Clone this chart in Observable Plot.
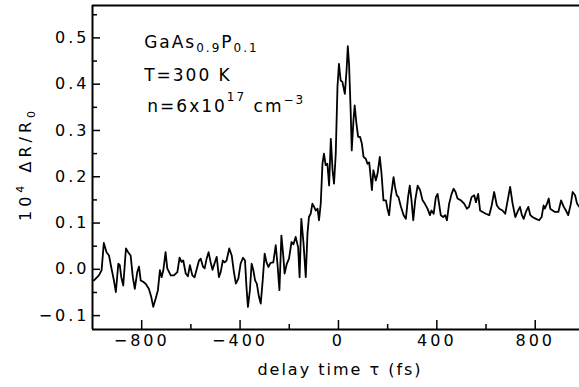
<!DOCTYPE html>
<html>
<head>
<meta charset="utf-8">
<script src="https://cdn.jsdelivr.net/npm/d3@7"></script>
<script src="https://cdn.jsdelivr.net/npm/@observablehq/plot@0.6"></script>
<style>
  html, body { margin: 0; padding: 0; background: white; }
  #chart svg { display: block; }
</style>
</head>
<body>
<div id="chart"></div>
<script>
// delay time tau (fs)
const tau = [-994,-974,-963,-954,-943,-933,-924,-913,-905,-895,-889,-883,-875,-864,-855,-845,-836,-828,-818,-811,-804,-794,-784,-771,-761,-753,-743,-734,-726,-719,-712,-703,-696,-682,-669,-655,-646,-638,-631,-621,-612,-604,-594,-585,-574,-567,-560,-551,-544,-536,-528,-520,-512,-502,-495,-486,-479,-470,-463,-455,-444,-434,-425,-417,-407,-398,-388,-380,-374,-368,-360,-353,-346,-339,-332,-323,-316,-308,-300,-293,-285,-276,-265,-255,-248,-240,-232,-224,-219,-210,-201,-191,-183,-174,-164,-158,-151,-142,-133,-126,-120,-113,-106,-99,-92,-85,-79,-72,-65,-59,-52,-45,-38,-31,-24,-18,-11,-4,2,9,16,26,33,38,43,50,54,61,66,73,80,88,95,102,111,118,125,131,136,142,152,159,168,175,183,193,199,206,213,224,230,237,244,254,265,274,283,290,297,304,312,322,332,342,351,362,372,378,387,396,403,409,416,426,434,441,450,460,468,476,484,498,511,522,531,541,552,559,568,576,586,599,613,623,633,644,654,667,678,688,698,708,719,728,738,746,753,762,772,780,789,803,816,826,834,839,848,855,861,871,880,894,905,916,925,934,945,952,962,970,979];
// 10^4 dR/R0
const signal = [-0.024,-0.013,-0.002,0.057,0.037,0.030,0.005,-0.024,-0.049,0.012,0.009,-0.017,-0.035,0.045,0.037,0.030,-0.017,-0.042,-0.006,0.006,-0.024,-0.027,-0.031,-0.042,-0.060,-0.081,-0.063,-0.045,-0.002,-0.017,-0.002,0.037,0.002,-0.013,-0.013,-0.006,0.025,0.016,0.019,-0.009,-0.015,0.009,-0.013,-0.017,0.005,0.019,0.023,0.006,0.002,0.023,0.037,0.016,-0.001,0.016,0.027,-0.017,-0.006,0.019,0.015,0.019,0.045,0.030,-0.006,-0.031,-0.020,0.012,0.025,0.019,-0.038,-0.081,-0.045,0.012,-0.002,-0.024,-0.031,-0.060,-0.074,-0.024,0.034,0.016,0.005,0.014,0.015,0.052,0.012,-0.045,0.073,0.027,-0.009,0.012,0.023,0.059,0.054,0.070,0.048,-0.017,0.109,0.056,-0.017,0.077,0.113,0.120,0.142,0.135,0.127,0.131,0.106,0.142,0.228,0.250,0.225,0.228,0.181,0.282,0.214,0.185,0.250,0.394,0.444,0.408,0.405,0.379,0.430,0.482,0.444,0.336,0.257,0.322,0.354,0.315,0.286,0.286,0.272,0.243,0.239,0.228,0.231,0.199,0.171,0.214,0.192,0.207,0.243,0.207,0.149,0.149,0.131,0.117,0.156,0.199,0.178,0.160,0.156,0.135,0.117,0.109,0.156,0.181,0.149,0.106,0.149,0.181,0.171,0.149,0.142,0.131,0.117,0.127,0.120,0.156,0.163,0.142,0.117,0.113,0.117,0.106,0.142,0.163,0.174,0.167,0.153,0.149,0.142,0.131,0.135,0.156,0.160,0.145,0.163,0.127,0.124,0.120,0.117,0.138,0.167,0.138,0.131,0.127,0.120,0.149,0.178,0.142,0.113,0.124,0.135,0.117,0.109,0.124,0.135,0.117,0.113,0.109,0.106,0.113,0.138,0.131,0.142,0.153,0.131,0.127,0.124,0.124,0.149,0.135,0.127,0.117,0.142,0.167,0.160,0.142,0.135];

const xMajorTicks = [-800, -400, 0, 400, 800];
const xMinorTicks = [-600, -200, 200, 600];
const yMajorTicks = [-0.1, 0.0, 0.1, 0.2, 0.3, 0.4, 0.5];
const yMinorTicks = [-0.05, 0.05, 0.15, 0.25, 0.35, 0.45, 0.55];
const xDomain = [-1000, 980];
const yDomain = [-0.13, 0.57];

const data = tau.map((t, i) => ({t, v: signal[i]}));

const W = 579, H = 387, mL = 92, mR = 0, mT = 5, mB = 58;
const pw = W - mL - mR, ph = H - mT - mB;

const plot = Plot.plot({
  width: W, height: H,
  marginLeft: mL, marginRight: mR, marginTop: mT, marginBottom: mB,
  style: {fontFamily: "DejaVu Sans", fontSize: "16px", background: "white", color: "black"},
  x: {domain: xDomain},
  y: {domain: yDomain},
  marks: [
    Plot.axisX({ticks: xMajorTicks, tickSize: 0, tickPadding: 5, label: null, tickFormat: d => d3.format("d")(d)}),
    Plot.axisY({ticks: yMajorTicks, tickSize: 0, tickPadding: 3, label: null, tickFormat: ".1f"}),
    Plot.tickX(xMajorTicks, {x: d => d, insetTop: ph - 9, stroke: "black", strokeWidth: 1.5}),
    Plot.tickX(xMinorTicks, {x: d => d, insetTop: ph - 5, stroke: "black", strokeWidth: 1.5}),
    Plot.tickY(yMajorTicks, {y: d => d, insetRight: pw - 8, stroke: "black", strokeWidth: 1.5}),
    Plot.tickY(yMinorTicks, {y: d => d, insetRight: pw - 5, stroke: "black", strokeWidth: 1.5}),
    Plot.ruleX([xDomain[0]], {stroke: "black", strokeWidth: 2}),
    Plot.ruleY([yDomain[0]], {stroke: "black", strokeWidth: 2}),
    Plot.ruleY([yDomain[1]], {stroke: "black", strokeWidth: 2}),
    Plot.line(data, {x: "t", y: "v", stroke: "black", strokeWidth: 1.8, strokeLinejoin: "round"})
  ]
});

document.getElementById("chart").appendChild(plot);

const svg = d3.select(plot);
svg.selectAll('g[aria-label="x-axis tick label"] text, g[aria-label="y-axis tick label"] text')
  .attr("letter-spacing", "3px");

const sx = plot.scale("x"), sy = plot.scale("y");

// annotation block
const ax = sx.apply(-788);
const ann = svg.append("g").attr("font-family", "DejaVu Sans").attr("font-size", 17)
  .attr("letter-spacing", "2px").attr("fill", "black").attr("text-anchor", "start");
const t1 = ann.append("text").attr("x", ax).attr("y", sy.apply(0.477));
t1.append("tspan").text("GaAs");
t1.append("tspan").attr("font-size", 12).attr("dy", 4).text("0.9");
t1.append("tspan").attr("dy", -4).text("P");
t1.append("tspan").attr("font-size", 12).attr("dy", 4).text("0.1");
ann.append("text").attr("x", ax).attr("y", sy.apply(0.406)).text("T=300 K");
const t3 = ann.append("text").attr("x", sx.apply(-775)).attr("y", sy.apply(0.338));
t3.append("tspan").text("n=6x10");
t3.append("tspan").attr("font-size", 12).attr("dy", -11).text("17");
t3.append("tspan").attr("dy", 11).text(" cm");
t3.append("tspan").attr("font-size", 12).attr("dy", -8).text("−3");

// axis titles
svg.append("text")
  .attr("x", 340).attr("y", 375)
  .attr("text-anchor", "middle")
  .attr("font-family", "DejaVu Sans").attr("font-size", 16).attr("letter-spacing", "2px")
  .attr("fill", "black")
  .text("delay time τ (fs)");

const yt = svg.append("text")
  .attr("transform", "translate(31,164) rotate(-90)")
  .attr("text-anchor", "middle")
  .attr("font-family", "DejaVu Sans").attr("font-size", 16).attr("letter-spacing", "4px")
  .attr("fill", "black");
yt.append("tspan").text("10");
yt.append("tspan").attr("font-size", 11).attr("dy", -7).text("4");
yt.append("tspan").attr("dy", 7).text(" ΔR/R");
yt.append("tspan").attr("font-size", 11).attr("dy", 4).text("0");
</script>
</body>
</html>
